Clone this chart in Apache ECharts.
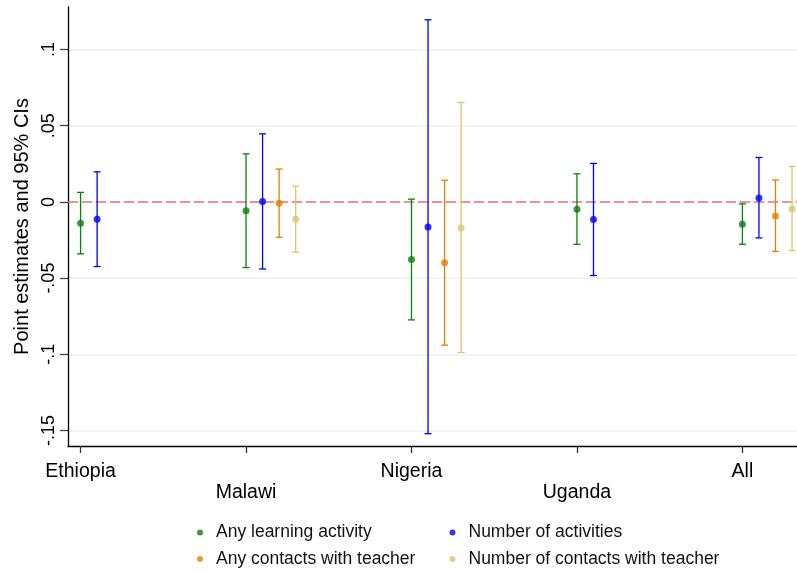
<!DOCTYPE html>
<html style="height: 100%">
<head>
    <meta charset="UTF-8">
    <script type="text/javascript" src="https://cdn.jsdelivr.net/npm/echarts@6/dist/echarts.min.js"></script>
    <style type="text/css">
        body {margin:0; padding:0; overflow:hidden; height: 100%; background:#fff}
    </style>
</head>
<body>
    <div id="container" style="width:797px;height:571px"></div>
<script>
    // groups on the x axis, one offset per measure
    var groups = ['Ethiopia', 'Malawi', 'Nigeria', 'Uganda', 'All'];
    var measures = ['Any learning activity', 'Number of activities', 'Any contacts with teacher', 'Number of contacts with teacher'];
    var offsets = [0, 0.1, 0.2, 0.3];
    var colors = ['#0b800b', '#0000ff', '#e67e00', '#dcc46f'];
    var yTicks = [-0.15, -0.1, -0.05, 0, 0.05, 0.1];

    // point estimates and 95% CI bounds (null = not estimated)
    var estLearning = [-0.0140, -0.0059, -0.0378, -0.0048, -0.0146];
    var loLearning  = [-0.0341, -0.0431, -0.0774, -0.0278, -0.0278];
    var hiLearning  = [ 0.0062,  0.0315,  0.0018,  0.0184, -0.0013];

    var estActivities = [-0.0114,  0.0003, -0.0164, -0.0116,  0.0026];
    var loActivities  = [-0.0424, -0.0440, -0.1520, -0.0483, -0.0236];
    var hiActivities  = [ 0.0197,  0.0446,  0.1194,  0.0252,  0.0291];

    var estContacts = [null, -0.0009, -0.0400, null, -0.0092];
    var loContacts  = [null, -0.0232, -0.0940, null, -0.0325];
    var hiContacts  = [null,  0.0215,  0.0142, null,  0.0144];

    var estNContacts = [null, -0.0114, -0.0171, null, -0.0046];
    var loNContacts  = [null, -0.0330, -0.0988, null, -0.0319];
    var hiNContacts  = [null,  0.0103,  0.0652, null,  0.0232];

    var est = [estLearning, estActivities, estContacts, estNContacts];
    var lo = [loLearning, loActivities, loContacts, loNContacts];
    var hi = [hiLearning, hiActivities, hiContacts, hiNContacts];

    var myChart = echarts.init(document.getElementById('container'));
    var font = 'Liberation Sans, Arial, Helvetica, sans-serif';

    function makeBars(color) {
        return function (params, api) {
            var x = api.value(0);
            var top = api.coord([x, api.value(2)]);
            var bot = api.coord([x, api.value(1)]);
            var w = 3.5;
            var style = {stroke: color, lineWidth: 1.3};
            return {
                type: 'group',
                children: [
                    {type: 'line', shape: {x1: top[0], y1: top[1], x2: bot[0], y2: bot[1]}, style: style},
                    {type: 'line', shape: {x1: top[0] - w, y1: top[1], x2: top[0] + w, y2: top[1]}, style: style},
                    {type: 'line', shape: {x1: bot[0] - w, y1: bot[1], x2: bot[0] + w, y2: bot[1]}, style: style}
                ]
            };
        };
    }

    var series = [];
    measures.forEach(function (name, m) {
        var pts = [], cis = [];
        groups.forEach(function (g, i) {
            if (est[m][i] === null) return;
            var pos = i + 1 + offsets[m];
            pts.push([pos, est[m][i]]);
            cis.push([pos, lo[m][i], hi[m][i]]);
        });
        series.push({
            name: name + ' CI',
            type: 'custom',
            renderItem: makeBars(colors[m]),
            data: cis,
            z: 3,
            silent: true
        });
        var s = {
            name: name,
            type: 'scatter',
            data: pts,
            symbolSize: 7,
            itemStyle: {color: colors[m]},
            z: 4
        };
        if (m === 0) {
            s.markLine = {
                silent: true,
                symbol: 'none',
                label: {show: false},
                lineStyle: {color: '#f07272', type: [10, 4], width: 1.6},
                data: [{yAxis: 0}],
                z: 2
            };
        }
        series.push(s);
    });

    // legend: 2 x 2 layout, one component per entry
    var legendPos = [[197, 523.5], [449.5, 523.5], [197, 550], [449.5, 550]];
    var legends = measures.map(function (name, m) {
        return {
            data: [name],
            left: legendPos[m][0],
            top: legendPos[m][1],
            icon: 'circle',
            itemWidth: 22,
            itemHeight: 6,
            padding: 0,
            textStyle: {fontFamily: font, fontSize: 17.5, color: '#111'}
        };
    });

    var option = {
        animation: false,
        backgroundColor: '#ffffff',
        textStyle: {fontFamily: font},
        grid: {left: 68, right: 0, top: 7, bottom: 125, containLabel: false, outerBoundsMode: 'none'},
        legend: legends,
        xAxis: {
            type: 'value',
            min: 0.924,
            max: 5.33,
            axisLine: {onZero: false, lineStyle: {color: '#000', width: 1.3}},
            axisTick: {customValues: [1, 2, 3, 4, 5], length: 7, lineStyle: {color: '#333', width: 1.3}},
            axisLabel: {
                customValues: [1, 2, 3, 4, 5],
                margin: 15.5,
                fontSize: 19.5,
                lineHeight: 21,
                color: '#000',
                fontFamily: font,
                formatter: function (v) {
                    var i = Math.round(v) - 1;
                    return i % 2 === 0 ? groups[i] : '\n' + groups[i];
                }
            },
            splitLine: {show: false}
        },
        yAxis: {
            type: 'value',
            min: -0.1601,
            max: 0.1278,
            name: 'Point estimates and 95% CIs',
            nameLocation: 'middle',
            nameGap: 36,
            nameTextStyle: {fontSize: 20, color: '#000', fontFamily: font},
            axisLine: {show: true, lineStyle: {color: '#000', width: 1.3}},
            axisTick: {show: true, customValues: yTicks, length: 8, lineStyle: {color: '#444', width: 1.3}},
            axisLabel: {
                customValues: yTicks,
                rotate: 90,
                margin: 10,
                fontSize: 18,
                color: '#000',
                fontFamily: font,
                formatter: function (v) {
                    return String(v).replace('0.', '.');
                }
            },
            splitLine: {show: true, lineStyle: {color: '#eaf0f3', width: 1.5}}
        },
        series: series
    };
    myChart.setOption(option);
</script>
</body>
</html>
